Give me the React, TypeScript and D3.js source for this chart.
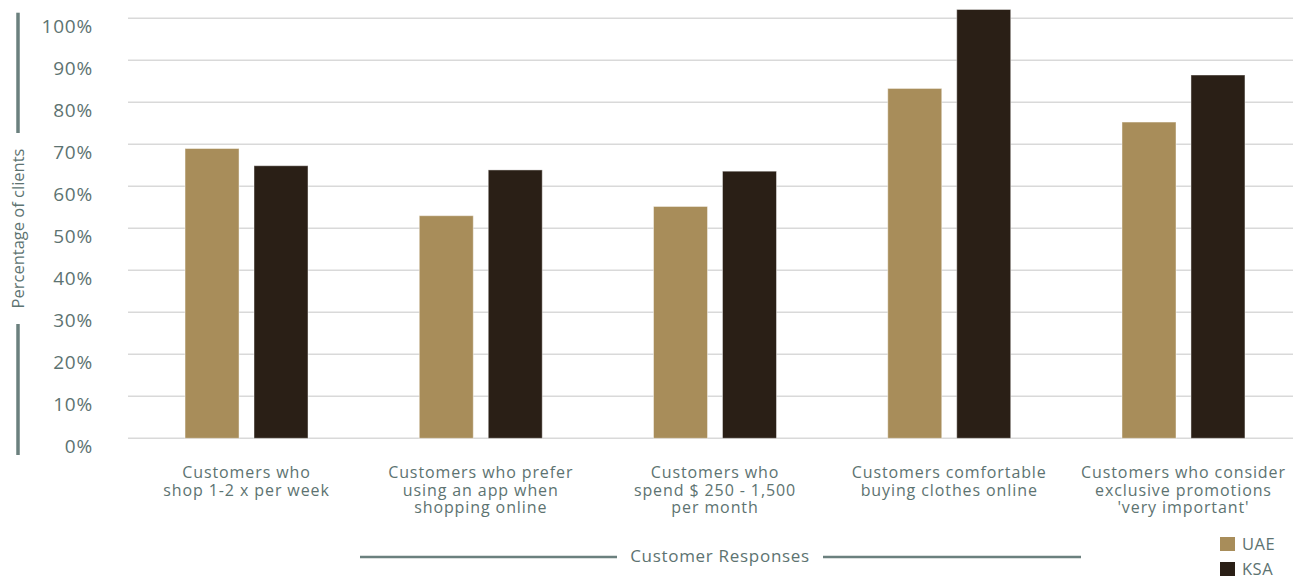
import React from "react";
import * as d3 from "d3";

const categories: string[][] = [
  ["Customers who", "shop 1-2 x per week"],
  ["Customers who prefer", "using an app when", "shopping online"],
  ["Customers who", "spend $ 250 - 1,500", "per month"],
  ["Customers comfortable", "buying clothes online"],
  ["Customers who consider", "exclusive promotions", "'very important'"],
];
const seriesNames = ["UAE", "KSA"];
const uaeValues = [69.0, 53.0, 55.2, 83.3, 75.3];
const ksaValues = [64.9, 63.9, 63.6, 102.1, 86.5];
const yTicks = [0, 10, 20, 30, 40, 50, 60, 70, 80, 90, 100];
const yTitle = "Percentage of clients";
const xTitle = "Customer Responses";

const W = 1305;
const H = 577;
const FONT = "'Open Sans', 'Noto Sans', sans-serif";
const TEXT = "#5d7371";
const AXIS = "#6b807e";
const GRID = "#d9d9d9";
const COLORS: Record<string, string> = { UAE: "#a88d5a", KSA: "#2a1f16" };

export default function App() {
  const x0 = d3
    .scaleBand<number>()
    .domain(categories.map((_, i) => i))
    .range([129.4, 1300.6])
    .paddingInner(0.475)
    .paddingOuter(0.2375);
  const x1 = d3
    .scaleBand<string>()
    .domain(seriesNames)
    .range([0, x0.bandwidth()])
    .paddingInner(0.217)
    .paddingOuter(0);
  const y = d3.scaleLinear().domain([0, 100]).range([438.3, 18.3]);

  const values: Record<string, number[]> = { UAE: uaeValues, KSA: ksaValues };

  return (
    <svg width={W} height={H} style={{ position: "absolute", left: 0, top: 0, background: "#fff" }}>
      <style>{"body{margin:0}"}</style>
      {/* gridlines */}
      {yTicks.map((t) => (
        <line key={"g" + t} x1={128} x2={1293} y1={y(t)} y2={y(t)} stroke={GRID} strokeWidth={1.5} />
      ))}
      {/* y tick labels */}
      {yTicks.map((t) => (
        <text
          key={"t" + t}
          x={93}
          y={y(t) + 8}
          textAnchor="end"
          dominantBaseline="central"
          fontFamily={FONT}
          fontSize={19}
          letterSpacing={0.8}
          fill={TEXT}
        >
          {t + "%"}
        </text>
      ))}
      {/* y axis title with line segments */}
      <line x1={18} x2={18} y1={12.7} y2={133} stroke={AXIS} strokeWidth={3.5} />
      <line x1={18} x2={18} y1={324} y2={455} stroke={AXIS} strokeWidth={3.5} />
      <text
        transform={`translate(17,228.5) rotate(-90)`}
        textAnchor="middle"
        dominantBaseline="central"
        fontFamily={FONT}
        fontSize={16.5}
        fill={TEXT}
      >
        {yTitle}
      </text>
      {/* bars */}
      {categories.map((_, i) =>
        seriesNames.map((s) => {
          const v = values[s][i];
          const bx = (x0(i) as number) + (x1(s) as number);
          return (
            <rect
              key={s + i}
              x={bx}
              y={y(v)}
              width={x1.bandwidth()}
              height={y(0) - y(v)}
              fill={COLORS[s]}
              stroke="rgba(255,255,255,0.45)"
              strokeWidth={1}
            />
          );
        })
      )}
      {/* x labels */}
      {categories.map((lines, i) => {
        const cx = (x0(i) as number) + x0.bandwidth() / 2;
        return (
          <text key={"x" + i} textAnchor="middle" fontFamily={FONT} fontSize={16} letterSpacing={0.9} fill={TEXT}>
            {lines.map((l, j) => (
              <tspan key={j} x={cx} y={478.3 + j * 17.5}>
                {l}
              </tspan>
            ))}
          </text>
        );
      })}
      {/* x axis title */}
      <line x1={360} x2={617} y1={557} y2={557} stroke={AXIS} strokeWidth={2.5} />
      <line x1={823} x2={1081} y1={557} y2={557} stroke={AXIS} strokeWidth={2.5} />
      <text x={720} y={562} textAnchor="middle" fontFamily={FONT} fontSize={17} letterSpacing={0.7} fill={TEXT}>
        {xTitle}
      </text>
      {/* legend */}
      {seriesNames.map((s, i) => (
        <g key={"l" + s} transform={`translate(1220,${537 + i * 25})`}>
          <rect x={0} y={0} width={15} height={14} fill={COLORS[s]} />
          <text x={22} y={13} fontFamily={FONT} fontSize={16.5} letterSpacing={0.5} fill={TEXT}>
            {s}
          </text>
        </g>
      ))}
    </svg>
  );
}
